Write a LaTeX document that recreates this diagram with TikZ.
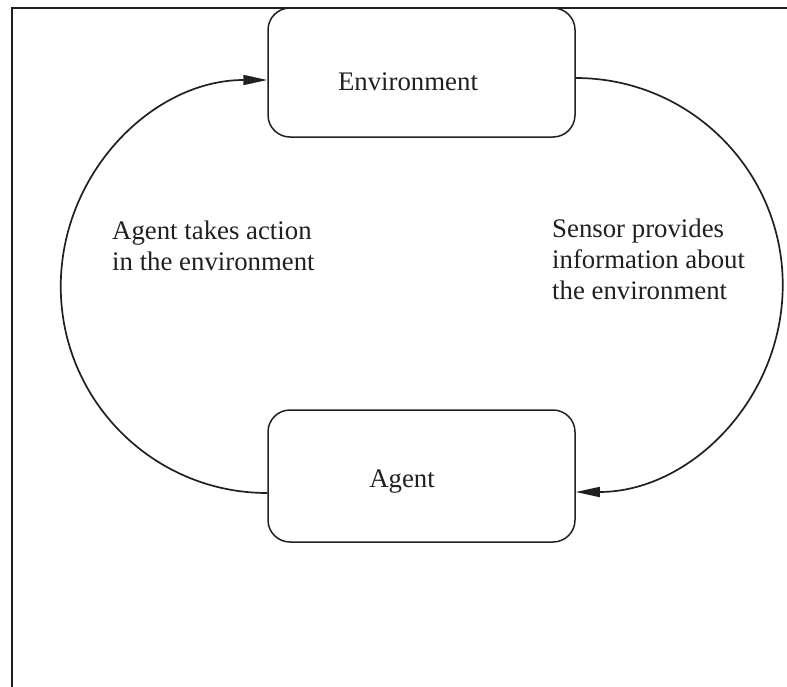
\documentclass[tikz,border=0pt]{standalone}
\usepackage{fontspec}
\setmainfont{Liberation Serif}
\usetikzlibrary{arrows.meta,calc}
\definecolor{ink}{HTML}{231F20}
\begin{document}
\begin{tikzpicture}[x=1pt,y=-1pt,
  box/.style={draw=ink,line width=1.5pt,rounded corners=22pt,minimum width=307pt,inner sep=0pt},
  lbl/.style={text=ink,font=\fontsize{26.8}{31}\selectfont,inner sep=0pt},
  flow/.style={draw=ink,line width=1.7pt,-{Triangle[length=24pt,width=10pt]}}]
\useasboundingbox (0,0) rectangle (787,686);
% frame
\draw[ink,line width=2.2pt] (12,8) -- (790,8);
\draw[ink,line width=1.6pt] (12,7) -- (12,690);
% boxes
\node[box,minimum height=129pt] (env) at (421.5,72.5) {};
\node[box,minimum height=132pt] (agent) at (421.5,476) {};
\node[lbl] (envt) at (408,82) {Environment};
\node[lbl] (agentt) at (402,482) {Agent};
% connector end points
\coordinate (aL) at ($(agent.west)+(0,17)$);
\coordinate (eL) at ($(env.west)+(0,7.5)$);
\coordinate (eR) at ($(env.east)+(0,5.5)$);
\coordinate (aR) at ($(agent.east)+(0,16)$);
\draw[flow] (aL) arc[start angle=90,end angle=270,radius=206.5];
\draw[flow] (eR) arc[start angle=-90,end angle=90,radius=207];
% labels
\node[lbl,anchor=west,align=left] (lt) at (112,246) {Agent takes action\\in the environment};
\node[lbl,anchor=west,align=left] (rt) at (552,259) {Sensor provides\\information about\\the environment};
\end{tikzpicture}
\end{document}
